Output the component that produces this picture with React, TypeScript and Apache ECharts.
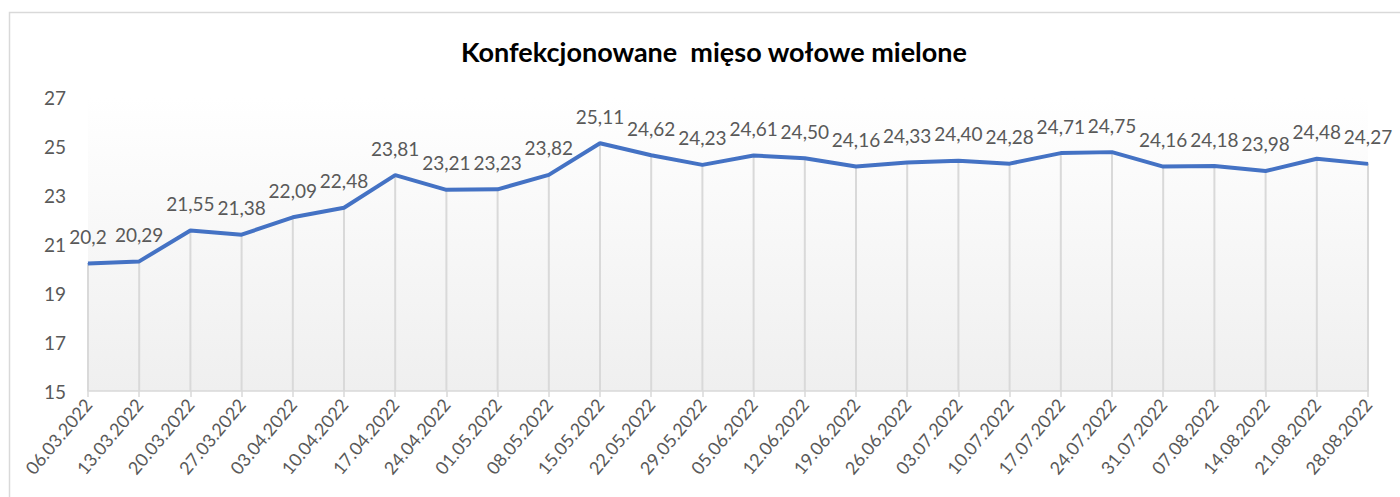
import React, { useEffect, useRef } from "react";
import * as echarts from "echarts";

const chartTitle = "Konfekcjonowane  mięso wołowe mielone";
const dates = [
  "06.03.2022", "13.03.2022", "20.03.2022", "27.03.2022", "03.04.2022", "10.04.2022",
  "17.04.2022", "24.04.2022", "01.05.2022", "08.05.2022", "15.05.2022", "22.05.2022",
  "29.05.2022", "05.06.2022", "12.06.2022", "19.06.2022", "26.06.2022", "03.07.2022",
  "10.07.2022", "17.07.2022", "24.07.2022", "31.07.2022", "07.08.2022", "14.08.2022",
  "21.08.2022", "28.08.2022",
];
const prices = [
  20.2, 20.29, 21.55, 21.38, 22.09, 22.48, 23.81, 23.21, 23.23, 23.82, 25.11, 24.62,
  24.23, 24.61, 24.5, 24.16, 24.33, 24.4, 24.28, 24.71, 24.75, 24.16, 24.18, 23.98,
  24.48, 24.27,
];
const priceLabels = [
  "20,2", "20,29", "21,55", "21,38", "22,09", "22,48", "23,81", "23,21", "23,23", "23,82",
  "25,11", "24,62", "24,23", "24,61", "24,50", "24,16", "24,33", "24,40", "24,28", "24,71",
  "24,75", "24,16", "24,18", "23,98", "24,48", "24,27",
];
const yMin = 15;
const yMax = 27;
const yStep = 2;

export default function App() {
  const ref = useRef<HTMLDivElement>(null);
  useEffect(() => {
    if (!ref.current) return;
    const chart = echarts.init(ref.current, undefined, { renderer: "svg" });
    const font = "Lato, 'Open Sans', sans-serif";
    chart.setOption({
      animation: false,
      backgroundColor: "#ffffff",
      title: {
        text: chartTitle,
        left: 709,
        textAlign: "center",
        top: 33,
        textStyle: { fontFamily: font, fontWeight: "bold", fontSize: 27, color: "#000000" },
      },
      graphic: [
        {
          type: "rect",
          shape: { x: 9.5, y: 12.5, width: 1420, height: 520 },
          style: { fill: "none", stroke: "#d9d9d9", lineWidth: 1.5 },
          silent: true,
          z: -1,
        },
      ],
      grid: {
        left: 88,
        right: 32,
        top: 97,
        bottom: 106,
        show: true,
        borderWidth: 0,
        backgroundColor: new echarts.graphic.LinearGradient(0, 0, 0, 1, [
          { offset: 0, color: "#ffffff" },
          { offset: 1, color: "#efefef" },
        ]),
      },
      xAxis: {
        type: "category",
        data: dates,
        boundaryGap: false,
        axisLine: { show: true, lineStyle: { color: "#d9d9d9", width: 1.5 } },
        axisTick: { show: true, alignWithLabel: true, length: 6, lineStyle: { color: "#d9d9d9", width: 1.5 } },
        axisLabel: {
          rotate: 50,
          interval: 0,
          margin: 10,
          color: "#595959",
          fontSize: 18,
          fontFamily: font,
        },
        splitLine: { show: false },
      },
      yAxis: {
        type: "value",
        min: yMin,
        max: yMax,
        interval: yStep,
        axisLine: { show: false },
        axisTick: { show: false },
        splitLine: { show: false },
        axisLabel: { color: "#595959", fontSize: 19, fontFamily: font, margin: 22 },
      },
      series: [
        {
          type: "bar",
          data: prices,
          barWidth: 2,
          itemStyle: { color: "#d9d9d9" },
          silent: true,
          z: 1,
        },
        {
          type: "line",
          data: prices,
          symbol: "circle",
          symbolSize: 1,
          itemStyle: { color: "#4472C4" },
          lineStyle: { color: "#4472C4", width: 4 },
          z: 3,
          label: {
            show: true,
            position: "top",
            distance: 17,
            color: "#595959",
            fontSize: 19,
            fontFamily: font,
            formatter: (p: any) => priceLabels[p.dataIndex],
          },
        },
      ],
    });
    return () => chart.dispose();
  }, []);
  return (
    <div
      ref={ref}
      style={{ position: "fixed", left: 0, top: 0, width: 1400, height: 497 }}
    />
  );
}
